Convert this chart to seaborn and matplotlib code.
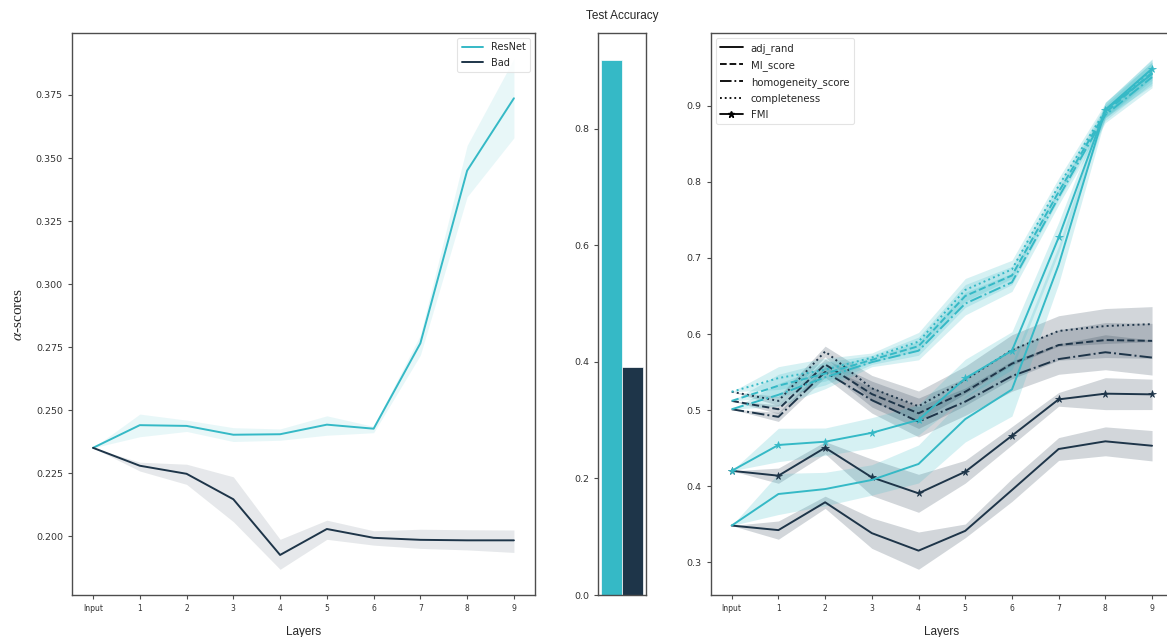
import matplotlib
matplotlib.use("Agg")
import matplotlib.pyplot as plt
from matplotlib.lines import Line2D
import numpy as np
import seaborn as sns

# ---- data ---------------------------------------------------------------
layers = ["Input", "1", "2", "3", "4", "5", "6", "7", "8", "9"]
models = ["ResNet", "Bad"]

# alpha-scores per layer (mean and band limits)
resnet_alpha = [0.235, 0.2440, 0.2437, 0.2402, 0.2404, 0.2442, 0.2426, 0.2765, 0.3450, 0.3737]
resnet_alpha_lo = [0.235, 0.2394, 0.2415, 0.2375, 0.2380, 0.2400, 0.2410, 0.2718, 0.3346, 0.3580]
resnet_alpha_hi = [0.235, 0.2484, 0.2460, 0.2430, 0.2425, 0.2477, 0.2435, 0.2798, 0.3550, 0.3894]
bad_alpha = [0.235, 0.2279, 0.2247, 0.2146, 0.1925, 0.2028, 0.1993, 0.1985, 0.1983, 0.1983]
bad_alpha_lo = [0.235, 0.2258, 0.2205, 0.2057, 0.1868, 0.1987, 0.1964, 0.1951, 0.1945, 0.1935]
bad_alpha_hi = [0.235, 0.2293, 0.2285, 0.2235, 0.1987, 0.2063, 0.2021, 0.2027, 0.2025, 0.2024]

# test accuracy
test_acc = [0.918, 0.391]

# clustering metrics per layer
metrics = ["adj_rand", "MI_score", "homogeneity_score", "completeness", "FMI"]

res_adj = [0.348, 0.3895, 0.396, 0.408, 0.429, 0.488, 0.527, 0.691, 0.895, 0.942]
res_mi = [0.512, 0.532, 0.548, 0.566, 0.584, 0.650, 0.677, 0.787, 0.891, 0.944]
res_hom = [0.501, 0.520, 0.543, 0.563, 0.578, 0.640, 0.668, 0.780, 0.888, 0.938]
res_comp = [0.524, 0.542, 0.553, 0.569, 0.590, 0.658, 0.685, 0.795, 0.894, 0.948]
res_fmi = [0.420, 0.454, 0.4583, 0.470, 0.487, 0.5417, 0.578, 0.727, 0.895, 0.949]

res_adj_sd = [0.0, 0.027, 0.022, 0.020, 0.025, 0.030, 0.035, 0.025, 0.010, 0.015]
res_clu_sd = [0.0, 0.015, 0.015, 0.006, 0.012, 0.015, 0.012, 0.010, 0.010, 0.014]
res_fmi_sd = [0.0, 0.022, 0.018, 0.020, 0.020, 0.025, 0.025, 0.020, 0.010, 0.012]

bad_adj = [0.348, 0.342, 0.3786, 0.338, 0.315, 0.341, 0.3947, 0.4487, 0.4588, 0.453]
bad_mi = [0.512, 0.501, 0.560, 0.521, 0.4957, 0.524, 0.561, 0.5855, 0.592, 0.591]
bad_hom = [0.501, 0.491, 0.550, 0.513, 0.4846, 0.511, 0.5447, 0.567, 0.576, 0.569]
bad_comp = [0.524, 0.512, 0.577, 0.5285, 0.505, 0.5395, 0.579, 0.604, 0.6105, 0.613]
bad_fmi = [0.420, 0.4136, 0.4504, 0.4114, 0.3904, 0.4188, 0.4662, 0.514, 0.5215, 0.5206]

bad_adj_sd = [0.0, 0.012, 0.008, 0.020, 0.0245, 0.009, 0.015, 0.015, 0.019, 0.020]
bad_clu_sd = [0.0, 0.006, 0.007, 0.017, 0.020, 0.018, 0.020, 0.020, 0.023, 0.023]
bad_fmi_sd = [0.0, 0.010, 0.008, 0.024, 0.025, 0.015, 0.012, 0.009, 0.021, 0.020]

# ---- styling ------------------------------------------------------------
TEAL = "#35B9C6"
NAVY = "#1E3549"
SPINE = "#4d4d4d"

sns.set_theme(style="ticks")
plt.rcParams["font.family"] = ["DejaVu Sans"]
plt.rcParams["mathtext.fontset"] = "stix"

fig = plt.figure(figsize=(11.67, 6.37), dpi=100)
fig.patch.set_facecolor("white")

axL = fig.add_axes([0.0617, 0.0659, 0.3967, 0.8823])
axM = fig.add_axes([0.5124, 0.0659, 0.0411, 0.8823])
axR = fig.add_axes([0.6090, 0.0659, 0.3962, 0.8823])

pos = np.arange(len(layers))


def style_axes(ax, xsize=5.5, ysize=6.8):
    for sp in ax.spines.values():
        sp.set_visible(True)
        sp.set_color(SPINE)
        sp.set_linewidth(1.0)
    ax.tick_params(axis="x", labelsize=xsize, length=3, width=0.8, colors=SPINE, labelcolor="#333333")
    ax.tick_params(axis="y", labelsize=ysize, length=3, width=0.8, colors=SPINE, labelcolor="#333333")


# ---- left: alpha-scores -------------------------------------------------
for name, mean, lo, hi, col in [
    ("ResNet", resnet_alpha, resnet_alpha_lo, resnet_alpha_hi, TEAL),
    ("Bad", bad_alpha, bad_alpha_lo, bad_alpha_hi, NAVY),
]:
    sns.lineplot(x=pos, y=mean, ax=axL, color=col, linewidth=1.4, label=name)
    axL.fill_between(pos, lo, hi, color=col, alpha=0.11, linewidth=0)

axL.set_xticks(pos)
axL.set_xticklabels(layers)
axL.set_xlim(-0.45, 9.45)
axL.set_ylim(0.1766, 0.3996)
axL.set_yticks([0.200, 0.225, 0.250, 0.275, 0.300, 0.325, 0.350, 0.375])
axL.yaxis.set_major_formatter(matplotlib.ticker.FormatStrFormatter("%.3f"))
axL.set_xlabel("Layers", fontsize=8.5, family="Liberation Sans", labelpad=9)
axL.set_ylabel(r"$\alpha$-scores", fontsize=11, family="Liberation Serif")
axL.yaxis.set_label_coords(-0.102, 0.5)
style_axes(axL)
legL = axL.legend(loc="upper right", fontsize=7, frameon=True, handlelength=2.2,
                  borderpad=0.45, labelspacing=0.55)
legL.get_frame().set_edgecolor("#dddddd")
legL.get_frame().set_linewidth(0.8)

# ---- middle: test accuracy ----------------------------------------------
sns.barplot(x=["acc", "acc"], y=test_acc, hue=models, palette=[TEAL, NAVY],
            ax=axM, width=0.875, saturation=1, legend=False, edgecolor="white", linewidth=0.5)
axM.set_xlim(-0.5, 0.5)
axM.set_ylim(0, 0.964)
axM.set_xticks([])
axM.set_xlabel("")
axM.set_yticks([0.0, 0.2, 0.4, 0.6, 0.8])
axM.set_title("Test Accuracy", fontsize=8.5, family="Liberation Sans", pad=10)
style_axes(axM)

# ---- right: clustering metrics ------------------------------------------
line_styles = {
    "adj_rand": "-",
    "MI_score": "--",
    "homogeneity_score": "-.",
    "completeness": ":",
    "FMI": "-",
}
series = {
    "ResNet": {
        "adj_rand": (res_adj, res_adj_sd),
        "MI_score": (res_mi, res_clu_sd),
        "homogeneity_score": (res_hom, res_clu_sd),
        "completeness": (res_comp, res_clu_sd),
        "FMI": (res_fmi, res_fmi_sd),
    },
    "Bad": {
        "adj_rand": (bad_adj, bad_adj_sd),
        "MI_score": (bad_mi, bad_clu_sd),
        "homogeneity_score": (bad_hom, bad_clu_sd),
        "completeness": (bad_comp, bad_clu_sd),
        "FMI": (bad_fmi, bad_fmi_sd),
    },
}
colors = {"ResNet": TEAL, "Bad": NAVY}

for model in ["Bad", "ResNet"]:
    col = colors[model]
    for metric in metrics:
        mean, sd = series[model][metric]
        mean = np.asarray(mean)
        sd = np.asarray(sd)
        is_fmi = metric == "FMI"
        sns.lineplot(x=pos, y=mean, ax=axR, color=col, linewidth=1.4,
                     linestyle=line_styles[metric],
                     marker="*" if is_fmi else None,
                     markersize=5.5, markeredgewidth=0.5,
                     markeredgecolor=col, markerfacecolor=col)
        axR.fill_between(pos, mean - sd, mean + sd, color=col,
                         alpha=0.2, linewidth=0)

axR.set_xticks(pos)
axR.set_xticklabels(layers)
axR.set_xlim(-0.45, 9.45)
axR.set_ylim(0.2566, 0.996)
axR.set_yticks([0.3, 0.4, 0.5, 0.6, 0.7, 0.8, 0.9])
axR.set_xlabel("Layers", fontsize=8.5, family="Liberation Sans", labelpad=9)
style_axes(axR)

handles = [
    Line2D([], [], color="black", linestyle=line_styles[m], linewidth=1.3,
           marker="*" if m == "FMI" else None, markersize=5)
    for m in metrics
]
legR = axR.legend(handles, metrics, loc="upper left", fontsize=7.3, frameon=True,
                  handlelength=2.2, borderpad=0.45, labelspacing=0.6)
legR.get_frame().set_edgecolor("#dddddd")
legR.get_frame().set_linewidth(0.8)

fig.savefig("out.png", dpi=100, facecolor="white")
